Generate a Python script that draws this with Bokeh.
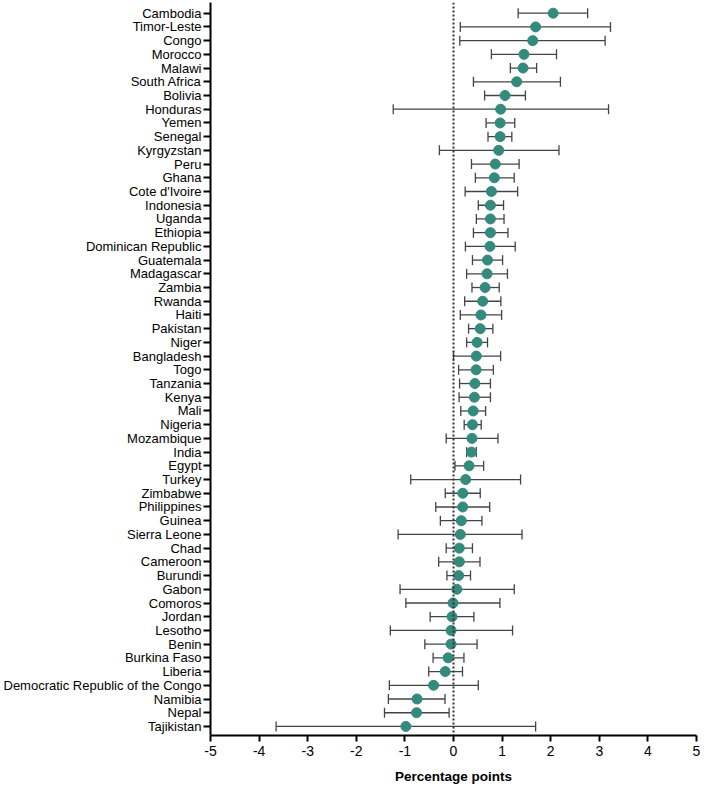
from bokeh.plotting import figure
from bokeh.models import ColumnDataSource, Whisker, TeeHead, Span, FixedTicker, Range1d
from bokeh.embed import file_html
from bokeh.resources import INLINE

countries = ["Cambodia", "Timor-Leste", "Congo", "Morocco", "Malawi", "South Africa", "Bolivia",
             "Honduras", "Yemen", "Senegal", "Kyrgyzstan", "Peru", "Ghana", "Cote d'Ivoire",
             "Indonesia", "Uganda", "Ethiopia", "Dominican Republic", "Guatemala", "Madagascar",
             "Zambia", "Rwanda", "Haiti", "Pakistan", "Niger", "Bangladesh", "Togo", "Tanzania",
             "Kenya", "Mali", "Nigeria", "Mozambique", "India", "Egypt", "Turkey", "Zimbabwe",
             "Philippines", "Guinea", "Sierra Leone", "Chad", "Cameroon", "Burundi", "Gabon",
             "Comoros", "Jordan", "Lesotho", "Benin", "Burkina Faso", "Liberia",
             "Democratic Republic of the Congo", "Namibia", "Nepal", "Tajikistan"]

estimate = [2.05, 1.69, 1.63, 1.45, 1.43, 1.30, 1.06, 0.97, 0.96, 0.96, 0.93, 0.86, 0.84, 0.78,
            0.76, 0.76, 0.76, 0.75, 0.70, 0.69, 0.65, 0.60, 0.565, 0.55, 0.485, 0.47, 0.465, 0.44,
            0.43, 0.405, 0.39, 0.38, 0.37, 0.32, 0.25, 0.19, 0.19, 0.16, 0.14, 0.12, 0.12, 0.105,
            0.07, -0.01, -0.03, -0.05, -0.05, -0.11, -0.17, -0.41, -0.75, -0.76, -0.98]

lower = [1.33, 0.14, 0.13, 0.78, 1.17, 0.41, 0.64, -1.24, 0.67, 0.71, -0.29, 0.37, 0.45, 0.24,
         0.51, 0.47, 0.41, 0.245, 0.39, 0.27, 0.38, 0.23, 0.14, 0.31, 0.27, 0.0, 0.105, 0.125,
         0.115, 0.15, 0.22, -0.15, 0.27, 0.03, -0.88, -0.17, -0.365, -0.27, -1.14, -0.15, -0.305,
         -0.135, -1.10, -0.98, -0.48, -1.30, -0.59, -0.42, -0.51, -1.32, -1.34, -1.42, -3.65]

upper = [2.76, 3.23, 3.12, 2.12, 1.71, 2.20, 1.48, 3.19, 1.26, 1.20, 2.17, 1.35, 1.25, 1.32,
         1.03, 1.04, 1.12, 1.27, 1.01, 1.11, 0.94, 0.975, 0.99, 0.81, 0.70, 0.97, 0.82, 0.76,
         0.76, 0.66, 0.57, 0.915, 0.47, 0.62, 1.38, 0.55, 0.745, 0.585, 1.41, 0.39, 0.545, 0.35,
         1.25, 0.955, 0.42, 1.215, 0.485, 0.215, 0.185, 0.51, -0.175, -0.09, 1.69]

x_ticks = [-5, -4, -3, -2, -1, 0, 1, 2, 3, 4, 5]
x_tick_labels = ["-5", "-4", "-3", "-2", "-1", "0", "1", "2", "3", "4", "5"]
x_title = "Percentage points"

n = len(countries)
ypos = [n - 1 - i for i in range(n)]

src = ColumnDataSource(dict(country=countries, y=ypos, est=estimate, lo=lower, hi=upper))

FONT = "Liberation Sans"
TEAL = "#338a7d"

p = figure(width=701, height=786, output_backend="svg", toolbar_location=None,
           x_range=Range1d(-5, 5), y_range=Range1d(-0.66, n - 1 + 0.78),
           min_border_top=2, min_border_right=5, min_border_left=0, min_border_bottom=0)

p.outline_line_color = None
p.xgrid.visible = False
p.ygrid.visible = False
p.background_fill_color = "white"
p.border_fill_color = "white"

zero = Span(location=0, dimension="height", line_color="#333333", line_width=2, line_dash="2 2")
p.add_layout(zero)

wh = Whisker(source=src, base="y", lower="lo", upper="hi", dimension="width",
             line_color="#444444", line_width=1.3,
             lower_head=TeeHead(size=10, line_color="#444444", line_width=1.3),
             upper_head=TeeHead(size=10, line_color="#444444", line_width=1.3))
p.add_layout(wh)

p.scatter(x="est", y="y", source=src, size=10, fill_color=TEAL, line_color=TEAL)

# x axis
xa = p.xaxis[0]
xa.ticker = FixedTicker(ticks=x_ticks)
xa.major_label_overrides = {t: s for t, s in zip(x_ticks, x_tick_labels)}
xa.axis_label = x_title
xa.axis_label_text_font = FONT
xa.axis_label_text_font_style = "bold"
xa.axis_label_text_font_size = "13.5px"
xa.axis_label_text_color = "#000000"
xa.axis_label_standoff = 10
xa.major_label_text_font = FONT
xa.major_label_text_font_size = "14px"
xa.major_label_text_color = "#000000"
xa.major_label_standoff = 4
xa.axis_line_width = 2
xa.axis_line_color = "#000000"
xa.major_tick_line_width = 2
xa.major_tick_line_color = "#000000"
xa.major_tick_out = 6
xa.major_tick_in = 0
xa.minor_tick_line_color = None

# y axis
ya = p.yaxis[0]
ya.ticker = FixedTicker(ticks=ypos)
ya.major_label_overrides = {int(yv): c for yv, c in zip(ypos, countries)}
ya.major_label_text_font = FONT
ya.major_label_text_font_size = "13px"
ya.major_label_text_color = "#000000"
ya.major_label_standoff = 2
ya.axis_line_width = 2
ya.axis_line_color = "#000000"
ya.major_tick_line_width = 2
ya.major_tick_line_color = "#000000"
ya.major_tick_out = 7
ya.major_tick_in = 0
ya.minor_tick_line_color = None

open("out.html", "w").write(file_html(p, INLINE))
